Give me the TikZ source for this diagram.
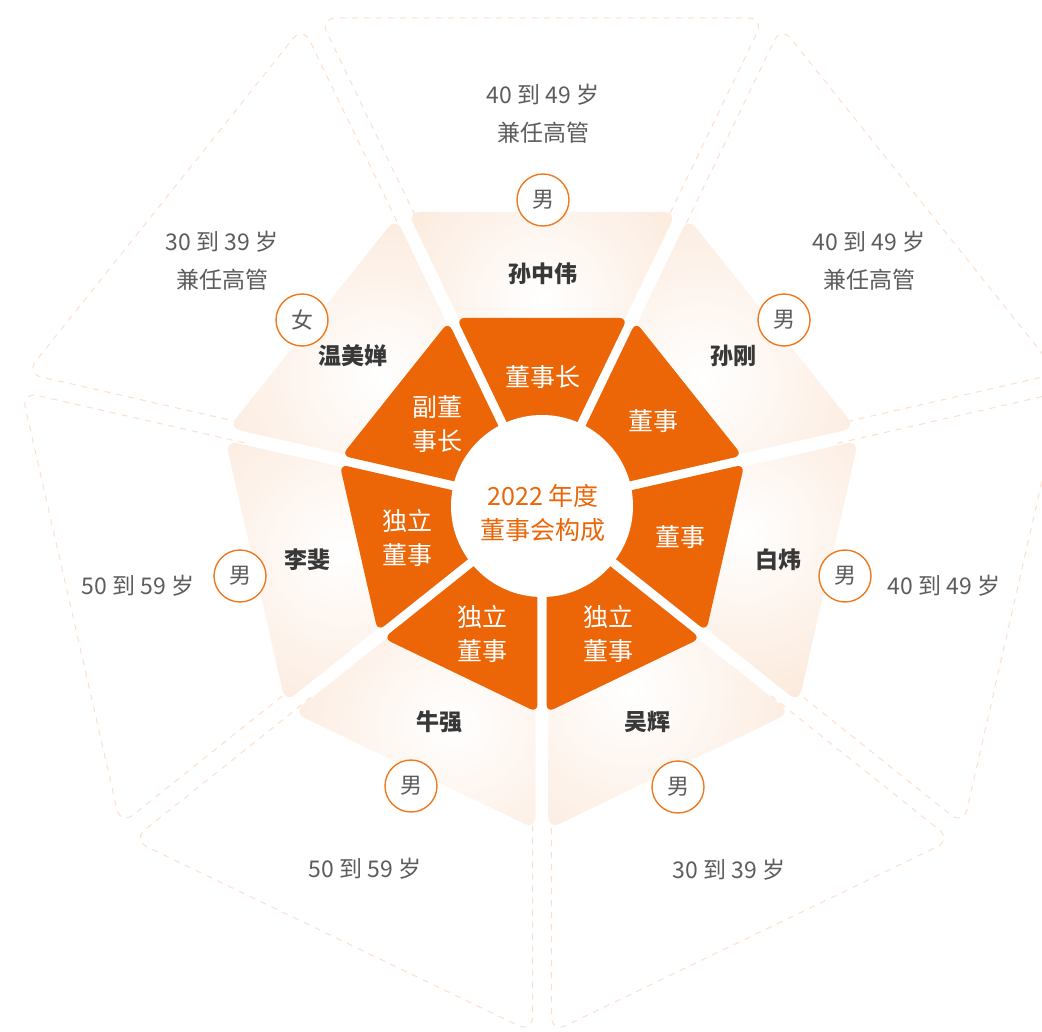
\documentclass[tikz,border=0pt]{standalone}
\usepackage{fontspec}
\setmainfont{Noto Sans CJK SC}
\usetikzlibrary{calc}

\definecolor{boardorange}{HTML}{EC6608}
\definecolor{peach}{HTML}{F8D6BC}
\definecolor{dashpeach}{HTML}{FBDFCD}
\definecolor{ringorange}{HTML}{EE7A1F}
\definecolor{agegray}{HTML}{5C5C5C}
\definecolor{namegray}{HTML}{383838}

\tikzset{
  frame/.style={draw=dashpeach, line width=1pt, dash pattern=on 6pt off 6pt, rounded corners=16pt},
  roletext/.style={text=white, font=\fontsize{25}{34}\selectfont, align=center, inner sep=0pt},
  titletext/.style={text=boardorange, font=\fontsize{25}{34}\selectfont, align=center, inner sep=0pt},
  person/.style={text=namegray, font=\fontsize{23}{28}\selectfont\bfseries, inner sep=0pt},
  agetext/.style={text=agegray, font=\fontsize{23}{38}\selectfont, align=center, inner sep=0pt},
  gender/.style={circle, draw=ringorange, line width=1.4pt, fill=white, minimum size=52pt,
    inner sep=0pt, text=agegray, font=\fontsize{22}{26}\selectfont},
}

\begin{document}
\begin{tikzpicture}[x=1pt,y=1pt]

\useasboundingbox (0,0) rectangle (1042,-1032);
\clip (0,0) rectangle (1042,-1032);

% centres of the rings
\coordinate (C) at (542,-506);
\coordinate (Co) at (542,-501);

% outer dashed frames
\foreach \ang in {90,38.571,-12.857,-64.286,-115.714,-167.143,141.429} {
  \begin{scope}[shift={(Co)},rotate=\ang]
    \draw[frame] (275,121.9) -- (483,222.1) -- (483,-222.1) -- (275,-121.9);
  \end{scope}
}

% light pieces with the dark pieces on top
\foreach \ang in {90,38.571,-12.857,-64.286,-115.714,-167.143,141.429} {
  \begin{scope}[shift={(C)},rotate=\ang]
    \begin{scope}
      \clip[rounded corners=12pt] (15,0) -- (294,134.4) -- (294,-134.4) -- cycle;
      \shade[inner color=white,outer color=peach] (205,0) circle (320);
    \end{scope}
    \fill[boardorange,rounded corners=8pt] (10.4,0) -- (188,85.5) -- (188,-85.5) -- cycle;
  \end{scope}
}

% centre disc
\fill[white] (C) circle (91);
\node[titletext] (title) at (543,-513) {2022 年度\\董事会构成};

% roles
\node[roletext] (chair) at (543,-377) {董事长};
\node[roletext] (dir1) at (653,-421) {董事};
\node[roletext] (dir2) at (680,-537) {董事};
\node[roletext] (ind1) at (608,-634) {独立\\董事};
\node[roletext] (ind2) at (482,-634) {独立\\董事};
\node[roletext] (ind3) at (407,-538) {独立\\董事};
\node[roletext] (vice) at (437,-424) {副董\\事长};

% names
\node[person] (sun) at (543,-274) {孙中伟};
\node[person] (sung) at (733,-356) {孙刚};
\node[person] (bai) at (778,-560) {白炜};
\node[person] (wu) at (647,-722) {吴辉};
\node[person] (niu) at (439,-722) {牛强};
\node[person] (li) at (307,-560) {李斐};
\node[person] (wen) at (353,-356) {温美婵};

% gender marks
\node[gender] (sunsex) at (543,-200) {男};
\node[gender] (sungsex) at (784,-320) {男};
\node[gender] (baisex) at (845,-576) {男};
\node[gender] (wusex) at (678,-787) {男};
\node[gender] (niusex) at (411,-786) {男};
\node[gender] (lisex) at (240,-576) {男};
\node[gender] (wensex) at (302,-320) {女};

% ages
\node[agetext] (sunage) at (543,-114) {40 到 49 岁\\兼任高管};
\node[agetext] (sungage) at (869,-261) {40 到 49 岁\\兼任高管};
\node[agetext] (baiage) at (944,-586) {40 到 49 岁};
\node[agetext] (wuage) at (729,-870) {30 到 39 岁};
\node[agetext] (niuage) at (365,-869) {50 到 59 岁};
\node[agetext] (liage) at (138,-586) {50 到 59 岁};
\node[agetext] (wenage) at (222,-261) {30 到 39 岁\\兼任高管};
\end{tikzpicture}
\end{document}
